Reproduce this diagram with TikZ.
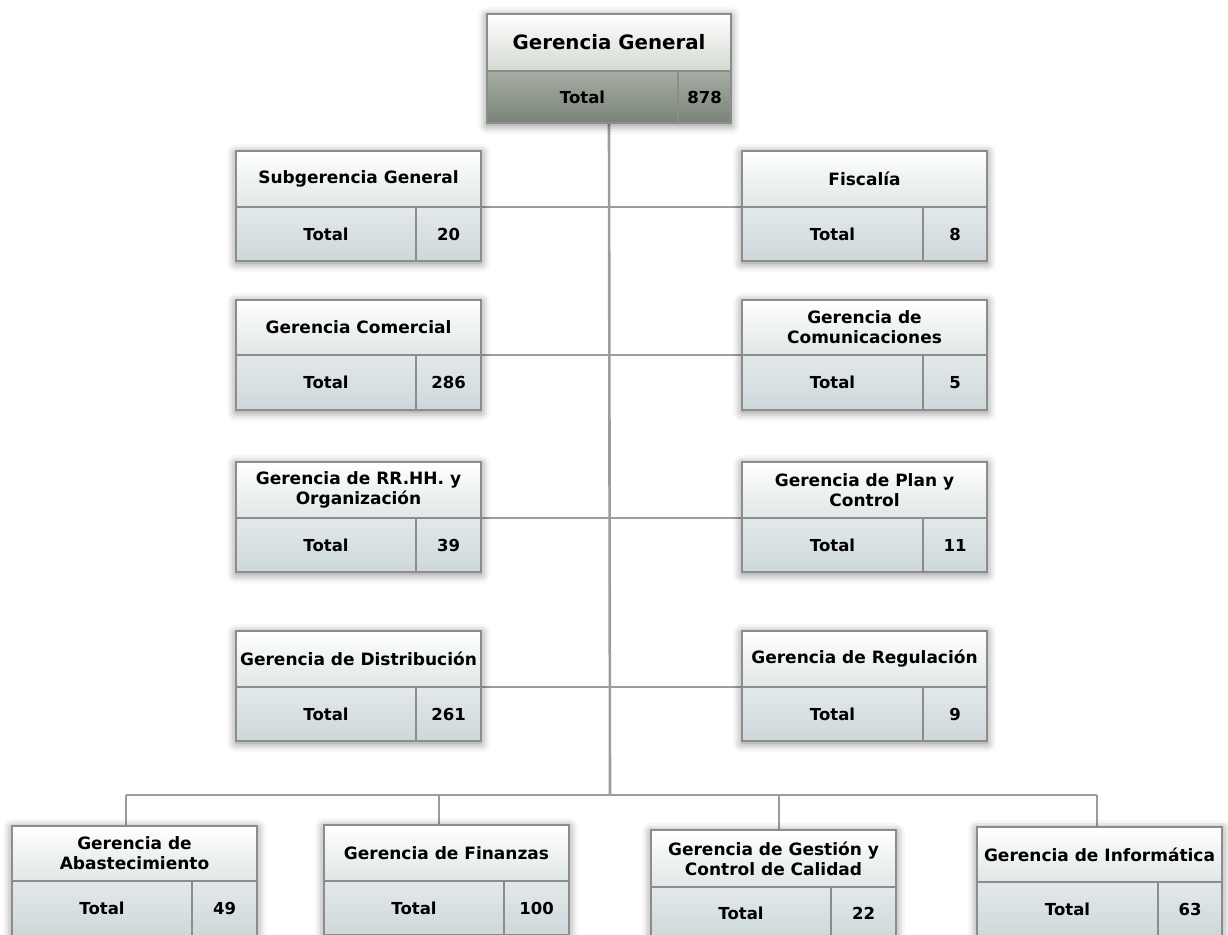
\documentclass[tikz,border=0pt]{standalone}
\usepackage{fontspec}
\setmainfont{DejaVu Sans}
\usetikzlibrary{calc,positioning,backgrounds,shadows.blur}

\definecolor{linea}{HTML}{9C9C9C}
\definecolor{borde}{HTML}{8C8C8C}
\definecolor{cabeza}{HTML}{E0E6E6}
\definecolor{pieclaro}{HTML}{E3E9EA}
\definecolor{pieoscuro}{HTML}{CDD7DA}
\definecolor{verdeclaro}{HTML}{D3D9D1}
\definecolor{verdemedio}{HTML}{A6AEA4}
\definecolor{verdeoscuro}{HTML}{7A8378}

\newcommand{\titulo}{\fontsize{17}{20}\selectfont\bfseries}
\newcommand{\dato}{\fontsize{16.5}{20}\selectfont\bfseries}
\newcommand{\titulogrande}{\fontsize{19.8}{23}\selectfont\bfseries}

% area: name, left, top, header height, width of the Total cell, title, value
\newcommand{\area}[7]{%
  \node[area] (#1) at (#2,#3) {};
  \node[area head, minimum height=#4] (#1 head) at (#1.north west) {#6};
  \node[area foot, minimum width=#5, minimum height=110-#4] (#1 total) at (#1 head.south west) {Total};
  \node[area foot, minimum width=245-#5, minimum height=110-#4] (#1 value) at (#1 total.north east) {#7};
}

\begin{document}
\begin{tikzpicture}[
  x={(1pt,0pt)}, y={(0pt,-1pt)},
  area/.style={
    anchor=north west,
    minimum width=245, minimum height=110,
    fill=white,
    inner sep=0pt, outer sep=0pt,
    blur shadow={shadow xshift=0pt, shadow yshift=-2pt,
      shadow blur radius=9pt, shadow opacity=50}
  },
  area head/.style={
    rectangle,
    anchor=north west,
    minimum width=245,
    draw=borde, line width=1.2,
    top color=white, bottom color=cabeza,
    inner sep=1pt, outer sep=0pt,
    align=center, font=\titulo
  },
  area foot/.style={
    rectangle,
    anchor=north west,
    draw=borde, line width=1.2,
    top color=pieclaro, bottom color=pieoscuro,
    inner sep=0pt, outer sep=0pt,
    font=\dato
  },
  conector/.style={
    draw=linea, line width=2.6
  }
  ]
\useasboundingbox (0,0) rectangle (1228,934);
% Gerencia General
\node[area, minimum width=244, minimum height=109] (gg) at (487,14) {};
\node[area head, minimum width=244, minimum height=57, bottom color=verdeclaro,
  font=\titulogrande] (gg head) at (gg.north west) {Gerencia General};
\node[area foot, minimum width=191, minimum height=52,
  top color=verdemedio, bottom color=verdeoscuro] (gg total) at (gg head.south west) {Total};
\node[area foot, minimum width=53, minimum height=52,
  top color=verdemedio, bottom color=verdeoscuro] (gg value) at (gg total.north east) {878};
% left column
\area{subg}{236}{151}{56}{180}{Subgerencia General}{20}
\area{comer}{236}{300}{55}{180}{Gerencia Comercial}{286}
\area{rrhh}{236}{462}{56}{180}{Gerencia de RR.HH. y\\ Organización}{39}
\area{dist}{236}{631}{56}{180}{Gerencia de Distribución}{261}
% right column
\area{fisc}{742}{151}{56}{181}{Fiscalía}{8}
\area{comun}{742}{300}{55}{181}{Gerencia de\\ Comunicaciones}{5}
\area{plan}{742}{462}{56}{181}{Gerencia de Plan y\\ Control}{11}
\area{regul}{742}{631}{56}{181}{Gerencia de Regulación}{9}
% bottom row
\area{abast}{12}{826}{55}{180}{Gerencia de\\ Abastecimiento}{49}
\area{finan}{324}{825}{56}{180}{Gerencia de Finanzas}{100}
\area{calid}{651}{830}{57}{180}{Gerencia de Gestión y\\ Control de Calidad}{22}
\area{infor}{977}{827}{55}{181}{Gerencia de Informática}{63}
% connectors
\coordinate (bus) at (610,795);
\coordinate (bus a) at (126,795);
\coordinate (bus b) at (439,795);
\coordinate (bus c) at (779,795);
\coordinate (bus d) at (1097,795);
\begin{scope}[on background layer]
\draw[conector] (gg.south) -- (bus);
\draw[conector] (subg head.south east) -- (fisc head.south west);
\draw[conector] (comer head.south east) -- (comun head.south west);
\draw[conector] (rrhh head.south east) -- (plan head.south west);
\draw[conector] (dist head.south east) -- (regul head.south west);
\draw[conector] (bus a) -- (bus d);
\draw[conector] (bus a) -- (bus a |- abast.north);
\draw[conector] (bus b) -- (bus b |- finan.north);
\draw[conector] (bus c) -- (bus c |- calid.north);
\draw[conector] (bus d) -- (bus d |- infor.north);
\end{scope}
\end{tikzpicture}
\end{document}
